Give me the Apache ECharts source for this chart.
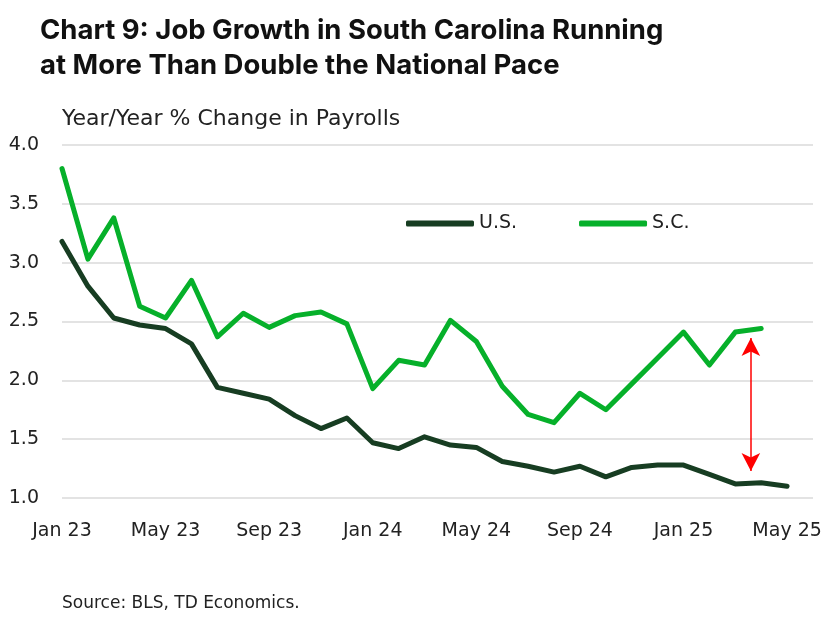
<!DOCTYPE html>
<html><head><meta charset="utf-8">
<script src="https://cdn.jsdelivr.net/npm/echarts@6/dist/echarts.min.js"></script>
<style>html,body{margin:0;padding:0;background:#fff}#c{width:827px;height:617px}</style>
</head><body><div id="c"></div>
<script>
const months = ['Jan 23','Feb 23','Mar 23','Apr 23','May 23','Jun 23','Jul 23','Aug 23','Sep 23','Oct 23','Nov 23','Dec 23',
  'Jan 24','Feb 24','Mar 24','Apr 24','May 24','Jun 24','Jul 24','Aug 24','Sep 24','Oct 24','Nov 24','Dec 24',
  'Jan 25','Feb 25','Mar 25','Apr 25','May 25','Jun 25'];
const usValues = [3.18,2.80,2.53,2.47,2.44,2.31,1.94,1.89,1.84,1.70,1.59,1.68,1.47,1.42,1.52,1.45,1.43,1.31,1.27,1.22,1.27,1.18,1.26,1.28,1.28,1.20,1.12,1.13,1.10];
const scValues = [3.80,3.03,3.38,2.63,2.53,2.85,2.37,2.57,2.45,2.55,2.58,2.48,1.93,2.17,2.13,2.51,2.33,1.95,1.71,1.64,1.89,1.75,1.97,2.19,2.41,2.13,2.41,2.44];
const arrowX = 26.6;
const arrowTop = 2.36;
const arrowBottom = 1.23;

const FONT = '"DejaVu Sans", sans-serif';
const TFONT = 'Inter, "Noto Sans", sans-serif';
const toPairs = arr => arr.map((v,i)=>[i,v]);
const chart = echarts.init(document.getElementById('c'));
chart.setOption({
  animation:false,
  backgroundColor:'#fff',
  title:{
    text:'Chart 9: Job Growth in South Carolina Running\nat More Than Double the National Pace',
    left:35, top:8,
    textStyle:{fontFamily:TFONT,fontWeight:'bold',fontSize:27.5,color:'#111',lineHeight:35}
  },
  legend:{
    left:401, top:209, itemWidth:68, itemHeight:6, itemGap:62,
    icon:'roundRect',
    textStyle:{fontFamily:FONT,fontSize:19,color:'#222'},
    data:['U.S.','S.C.']
  },
  grid:{left:62,right:14,top:145,bottom:119,containLabel:false},
  xAxis:{
    type:'value', min:0, max:29, interval:4,
    axisLine:{show:false}, axisTick:{show:false}, splitLine:{show:false},
    axisLabel:{fontFamily:FONT,fontSize:19,color:'#222',margin:24,
      formatter:v=> (v%4===0 && v<=28) ? months[v] : ''}
  },
  yAxis:{
    type:'value', min:1.0, max:4.0, interval:0.5,
    name:'Year/Year % Change in Payrolls', nameLocation:'end', nameGap:15,
    nameTextStyle:{fontFamily:FONT,fontSize:22,color:'#222',align:'left'},
    axisLine:{show:false}, axisTick:{show:false},
    splitLine:{lineStyle:{color:'#dadada',width:1.5}},
    axisLabel:{fontFamily:FONT,fontSize:19,color:'#222',margin:23,formatter:v=>v.toFixed(1)}
  },
  series:[
    {name:'U.S.',type:'line',data:toPairs(usValues),symbol:'none',
      lineStyle:{color:'#173d22',width:5,cap:'round',join:'round'},itemStyle:{color:'#173d22'},
      markLine:{silent:true,symbol:['arrow','arrow'],symbolSize:[14,18],
        lineStyle:{color:'#ff0000',width:1.5,type:'solid'},label:{show:false},
        data:[[{coord:[arrowX,arrowTop]},{coord:[arrowX,arrowBottom]}]]}
    },
    {name:'S.C.',type:'line',data:toPairs(scValues),symbol:'none',
      lineStyle:{color:'#06b02a',width:5,cap:'round',join:'round'},itemStyle:{color:'#06b02a'}}
  ],
  graphic:[{type:'text',left:62,top:595,style:{text:'Source: BLS, TD Economics.',fontFamily:FONT,fontSize:17,fill:'#222'}}]
});
</script></body></html>
